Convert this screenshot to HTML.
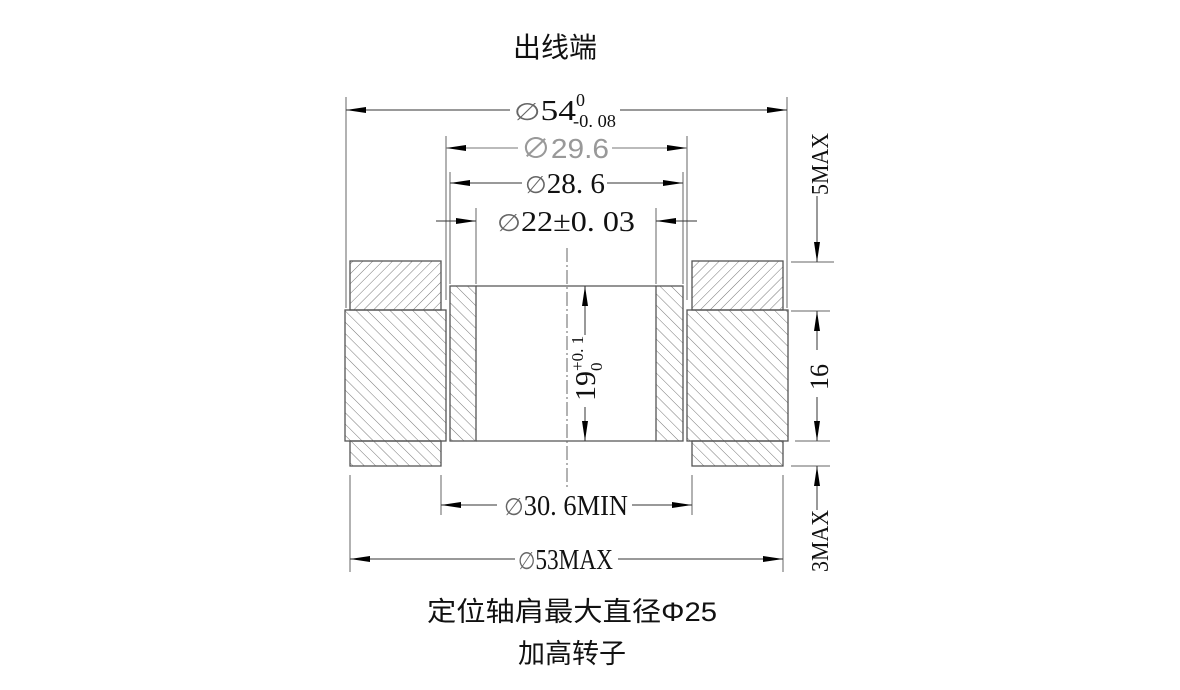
<!DOCTYPE html>
<html><head><meta charset="utf-8"><style>
html,body{margin:0;padding:0;background:#fff;width:1180px;height:690px;overflow:hidden}
svg{display:block}
text{font-family:"Liberation Serif","Noto Serif CJK SC","Noto Sans CJK SC",serif;fill:#111}
.cn{font-family:"Liberation Sans","Noto Sans CJK SC",sans-serif}
.ph{font-family:"Liberation Sans",sans-serif;fill:#666}
</style></head><body>
<svg width="1180" height="690" viewBox="0 0 1180 690" xmlns="http://www.w3.org/2000/svg">
<defs>
<pattern id="hf" width="7" height="7" patternUnits="userSpaceOnUse" patternTransform="rotate(45)">
<line x1="0" y1="0" x2="0" y2="7" stroke="#777" stroke-width="1"/></pattern>
<pattern id="hb" width="8" height="8" patternUnits="userSpaceOnUse" patternTransform="rotate(-45)">
<line x1="0" y1="0" x2="0" y2="8" stroke="#777" stroke-width="1"/></pattern>
<marker id="a" viewBox="0 0 20 6" refX="20" refY="3" markerWidth="20" markerHeight="6" markerUnits="userSpaceOnUse" orient="auto-start-reverse">
<path d="M0,0 L20,3 L0,6 z" fill="#000"/></marker>
</defs>

<text x="555" y="57" class="cn" font-size="28" text-anchor="middle">出线端</text>

<g stroke="#555" stroke-width="1.3">
<rect x="350" y="261" width="91" height="49" fill="url(#hf)"/>
<rect x="345" y="310" width="101" height="131" fill="url(#hb)"/>
<rect x="350" y="441" width="91" height="25" fill="url(#hb)"/>
<rect x="692" y="261" width="91" height="49" fill="url(#hf)"/>
<rect x="687" y="310" width="101" height="131" fill="url(#hb)"/>
<rect x="692" y="441" width="91" height="25" fill="url(#hb)"/>
<rect x="450" y="286" width="26" height="155" fill="url(#hb)"/>
<rect x="656" y="286" width="27" height="155" fill="url(#hb)"/>
<line x1="476" y1="286" x2="656" y2="286"/>
<line x1="476" y1="441" x2="656" y2="441"/>
</g>
<line x1="567" y1="248" x2="567" y2="490" stroke="#666" stroke-width="1" stroke-dasharray="14,3,2,3"/>

<g stroke="#666" stroke-width="1">
<line x1="346" y1="97" x2="346" y2="308"/>
<line x1="787" y1="97" x2="787" y2="308"/>
<line x1="446" y1="136" x2="446" y2="300"/>
<line x1="687" y1="136" x2="687" y2="300"/>
<line x1="450" y1="172" x2="450" y2="284"/>
<line x1="683" y1="172" x2="683" y2="284"/>
<line x1="476" y1="208" x2="476" y2="284"/>
<line x1="656" y1="208" x2="656" y2="284"/>
<line x1="441" y1="475" x2="441" y2="515"/>
<line x1="692" y1="475" x2="692" y2="515"/>
<line x1="350" y1="475" x2="350" y2="572"/>
<line x1="783" y1="475" x2="783" y2="572"/>
<line x1="791" y1="262" x2="834" y2="262"/>
<line x1="791" y1="311" x2="830" y2="311"/>
<line x1="795" y1="441" x2="830" y2="441"/>
<line x1="791" y1="466" x2="830" y2="466"/>
</g>

<g stroke="#333" stroke-width="1" fill="none">
<line x1="346" y1="110" x2="510" y2="110" marker-start="url(#a)"/>
<line x1="620" y1="110" x2="787" y2="110" marker-end="url(#a)"/>
<line x1="446" y1="148" x2="518" y2="148" marker-start="url(#a)" stroke="#777"/>
<line x1="612" y1="148" x2="687" y2="148" marker-end="url(#a)" stroke="#777"/>
<line x1="450" y1="183" x2="522" y2="183" marker-start="url(#a)"/>
<line x1="607" y1="183" x2="683" y2="183" marker-end="url(#a)"/>
<line x1="436" y1="221" x2="476" y2="221" marker-end="url(#a)"/>
<line x1="697" y1="221" x2="656" y2="221" marker-end="url(#a)"/>
<line x1="585" y1="335" x2="585" y2="286" marker-end="url(#a)"/>
<line x1="585" y1="407" x2="585" y2="441" marker-end="url(#a)"/>
<line x1="441" y1="505" x2="497" y2="505" marker-start="url(#a)"/>
<line x1="632" y1="505" x2="692" y2="505" marker-end="url(#a)"/>
<line x1="350" y1="559" x2="515" y2="559" marker-start="url(#a)"/>
<line x1="618" y1="559" x2="783" y2="559" marker-end="url(#a)"/>
<line x1="817" y1="196" x2="817" y2="262" marker-end="url(#a)"/>
<line x1="817" y1="311" x2="817" y2="350" marker-start="url(#a)"/>
<line x1="817" y1="397" x2="817" y2="441" marker-end="url(#a)"/>
<line x1="817" y1="466" x2="817" y2="510" marker-start="url(#a)"/>
</g>

<g font-size="28">
<text x="514" y="120" textLength="62" lengthAdjust="spacingAndGlyphs"><tspan class="ph" font-size="24">∅</tspan>54</text>
<text x="576" y="106" font-size="18">0</text>
<text x="573" y="127" font-size="18" textLength="43" lengthAdjust="spacingAndGlyphs">-0. 08</text>
<text x="521" y="158" class="cn" style="fill:#999" textLength="88" lengthAdjust="spacingAndGlyphs">∅29.6</text>
<text x="525" y="193" textLength="80" lengthAdjust="spacingAndGlyphs"><tspan class="ph" font-size="24">∅</tspan>28. 6</text>
<text x="497" y="231" textLength="138" lengthAdjust="spacingAndGlyphs"><tspan class="ph" font-size="24">∅</tspan>22±0. 03</text>
<text x="504" y="515" textLength="124" lengthAdjust="spacingAndGlyphs"><tspan class="ph" font-size="24">∅</tspan>30. 6MIN</text>
<text x="518" y="569" textLength="95" lengthAdjust="spacingAndGlyphs"><tspan class="ph" font-size="24">∅</tspan>53MAX</text>
<g transform="translate(595,401) rotate(-90)"><text x="0" y="0" textLength="30" lengthAdjust="spacingAndGlyphs">19</text><text x="30" y="-12" font-size="17">+0. 1</text><text x="30" y="7" font-size="17">0</text></g>
<g transform="translate(828,195) rotate(-90)"><text x="0" y="0" font-size="24" textLength="62" lengthAdjust="spacingAndGlyphs">5MAX</text></g>
<g transform="translate(828,390) rotate(-90)"><text x="0" y="0" font-size="26">16</text></g>
<g transform="translate(828,572) rotate(-90)"><text x="0" y="0" font-size="24" textLength="62" lengthAdjust="spacingAndGlyphs">3MAX</text></g>
</g>

<text x="572" y="621" class="cn" font-size="27" text-anchor="middle" textLength="290" lengthAdjust="spacingAndGlyphs">定位轴肩最大直径Φ25</text>
<text x="572" y="663" class="cn" font-size="27" text-anchor="middle">加高转子</text>
</svg>
</body></html>
